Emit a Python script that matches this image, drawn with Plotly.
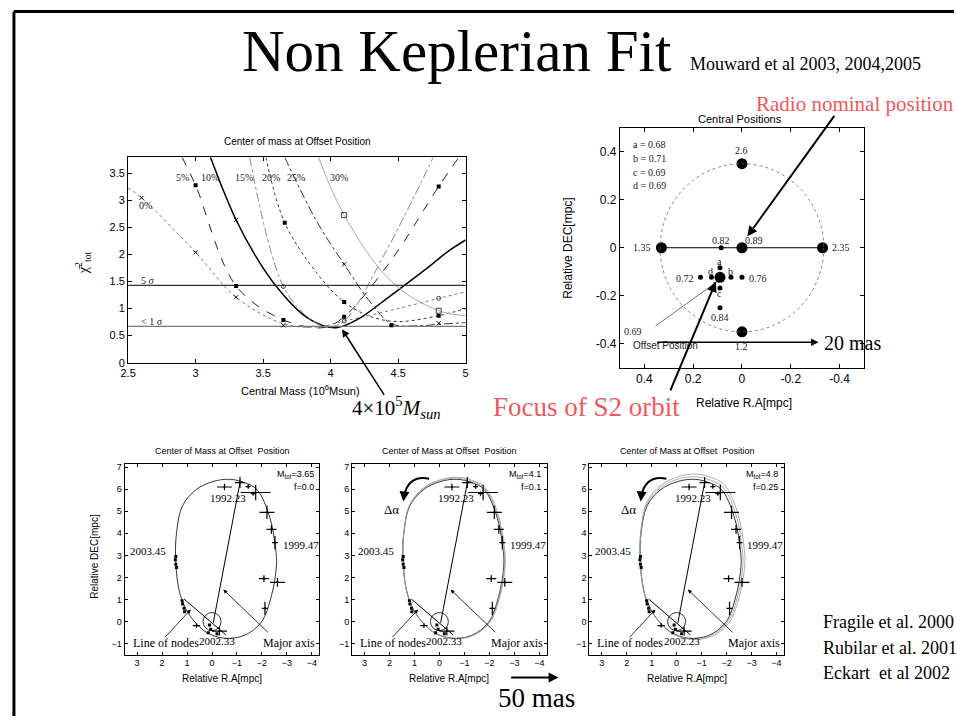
import plotly.graph_objects as go

W, H = 957, 722

# ---------------- data: chi^2 vs central mass (10^6 Msun) ----------------
mass_ticks = [2.5, 3, 3.5, 4, 4.5, 5]
mass_ticktext = ["2.5", "3", "3.5", "4", "4.5", "5"]
chi_ticks = [0, 0.5, 1, 1.5, 2, 2.5, 3, 3.5]
chi_ticktext = ["0", "0.5", "1", "1.5", "2", "2.5", "3", "3.5"]

mass_f0 = [2.5, 2.6, 3.0, 3.3, 3.65, 3.9, 4.1, 4.45, 4.8, 5.0]
chi_f0 = [3.23, 3.05, 2.04, 1.21, 0.72, 0.66, 0.77, 0.97, 1.19, 1.31]
mass_f5 = [2.9, 3.0, 3.3, 3.65, 3.95, 4.1, 4.45, 4.8, 4.95]
chi_f5 = [3.8, 3.28, 1.42, 0.79, 0.65, 0.85, 1.9, 3.26, 3.8]
mass_f10 = [3.11, 3.3, 3.5, 3.65, 3.8, 3.95, 4.05, 4.2, 4.45, 4.7, 4.87, 5.0]
chi_f10 = [3.8, 2.64, 1.75, 1.25, 0.88, 0.68, 0.65, 0.8, 1.25, 1.72, 2.06, 2.27]
mass_f15 = [3.4, 3.65, 3.85, 3.98, 4.1, 4.41, 4.76]
chi_f15 = [3.8, 1.41, 0.8, 0.66, 0.77, 2.06, 3.8]
mass_f20 = [3.52, 3.66, 3.9, 4.1, 4.3, 4.5, 4.8, 5.0]
chi_f20 = [3.8, 2.59, 1.65, 1.12, 0.85, 0.76, 0.87, 1.0]
mass_f25 = [3.66, 3.9, 4.1, 4.3, 4.45, 4.65, 4.8, 5.0]
chi_f25 = [3.8, 2.6, 1.82, 1.1, 0.72, 0.68, 0.71, 0.74]
mass_f30 = [3.91, 4.1, 4.45, 4.8, 5.0]
chi_f30 = [3.8, 2.73, 1.5, 0.96, 0.87]

fraction_labels = ["0%", "5%", "10%", "15%", "20%", "25%", "30%"]
fraction_label_mass = [2.63, 2.9, 3.11, 3.36, 3.56, 3.74, 4.06]
fraction_label_chi = [2.9, 3.42, 3.42, 3.42, 3.42, 3.42, 3.42]

sq_mass = [3.0, 3.3, 3.65, 4.1, 4.8, 3.66, 4.1, 4.45, 4.8]
sq_chi = [3.28, 1.42, 0.79, 0.85, 3.26, 2.59, 1.12, 0.69, 0.87]
x_mass = [2.6, 3.0, 3.3, 3.65, 4.1, 4.8, 3.3]
x_chi = [3.05, 2.04, 1.21, 0.69, 1.82, 0.73, 2.64]
osq_mass = [4.1, 4.8]
osq_chi = [2.73, 0.96]
oc_mass = [3.65, 4.1, 4.8]
oc_chi = [1.41, 0.77, 1.19]

sigma_levels = [1.43, 0.67]
sigma_labels = ["5 σ", "< 1 σ"]

# ---------------- data: central positions (mpc) ----------------
pos_ticks = [0.4, 0.2, 0, -0.2, -0.4]
pos_ticktext = ["0.4", "0.2", "0", "-0.2", "-0.4"]
big_ra = [0.33, -0.33, 0.0, 0.0, 0.0, 0.09]
big_dec = [0.0, 0.0, 0.35, -0.35, 0.0, -0.123]
small_ra = [0.085, 0.17, 0.125, 0.045, 0.0, 0.09, 0.09, 0.09]
small_dec = [0.0, -0.123, -0.123, -0.123, -0.123, -0.083, -0.167, -0.25]
circle_ra_radius = 0.335
circle_dec_radius = 0.35
legend_lines = ["a = 0.68", "b = 0.71", "c = 0.69", "d = 0.69"]
legend_dec = [0.43, 0.372, 0.315, 0.258]
pt_labels = ["2.6", "1.35", "2.35", "0.82", "0.89", "0.72", "0.76", "a", "b", "c", "d", "0.84", "1.2", "0.69"]
pt_label_ra = [0.0, 0.365, -0.36, 0.087, -0.005, 0.19, -0.02, 0.09, 0.045, 0.09, 0.127, 0.09, 0.0, 0.445]
pt_label_dec = [0.405, 0.0, 0.0, 0.032, 0.032, -0.128, -0.128, -0.058, -0.097, -0.19, -0.097, -0.29, -0.412, -0.35]
pt_label_anchor = ["center", "right", "left", "center", "left", "right", "left", "center", "center", "center", "center", "center", "center", "center"]

# ---------------- data: S2 orbit panels (mpc) ----------------
ra_ticks = [3, 2, 1, 0, -1, -2, -3, -4]
dec_ticks = [-1, 0, 1, 2, 3, 4, 5, 6, 7]
orbit_ra = [-0.05, -0.7, -1.3, -1.8, -2.3, -2.55, -2.58, -2.38, -1.97, -1.28, -0.46, 0.23, 0.7, 1.05, 1.33, 1.46, 1.42, 1.19, 0.64, -0.05]
orbit_dec = [6.35, 6.45, 6.3, 5.98, 4.78, 3.28, 2.53, 1.17, -0.03, -0.63, -0.75, -0.48, 0.0, 0.57, 1.47, 2.98, 4.03, 5.23, 5.98, 6.35]
s2_ra = [-0.5, -1.12, -1.45, -1.75, -1.65, -2.2, -2.38, -2.52, -2.08, -2.62, -2.12, 0.62, -0.3]
s2_dec = [6.1, 6.3, 6.12, 5.85, 5.8, 4.95, 4.18, 3.58, 1.95, 1.78, 0.6, -0.18, -0.43]
s2_ra_err = [0.3, 0.2, 0.1, 0.6, 0.1, 0.3, 0.2, 0.12, 0.2, 0.3, 0.12, 0.15, 0.3]
s2_dec_err = [0.15, 0.25, 0.1, 0.35, 0.1, 0.3, 0.2, 0.3, 0.15, 0.2, 0.3, 0.1, 0.2]
recent_ra = [1.45, 1.47, 1.45, 1.42, 1.2, 1.18, 1.12, 1.1, 0.1, 0.05, 0.15, -0.2]
recent_dec = [2.95, 2.8, 2.6, 2.45, 0.95, 0.8, 0.6, 0.45, -0.15, -0.35, -0.5, -0.55]
major_axis_ra = [-0.05, -1.12]
major_axis_dec = [-0.05, 6.3]
nodes_ra = [1.12, -0.55]
nodes_dec = [1.02, -0.6]
panel_mtot = ["3.65", "4.1", "4.8"]
panel_f = ["0.0", "0.1", "0.25"]
panel_epoch = ["2002.33", "2002.33", "2002.23"]
panel_orbit_scale = [[1.0], [1.0, 1.008, 1.016], [1.0, 1.02, 1.04]]
orbit_anchor_ra, orbit_anchor_dec = 1.2, 0.6

# ---------------- helpers ----------------
def px(x):
    return x / W

def py(y):
    return 1 - y / H

def dom_x(l, r):
    return [l / W, r / W]

def dom_y(t, b):
    return [1 - b / H, 1 - t / H]

SERIF = "Liberation Serif"
SANS = "Liberation Sans"
RED = "#f0585a"

fig = go.Figure()
ann = []
shapes = []

def A(**kw):
    kw.setdefault("xanchor", "center")
    kw.setdefault("yanchor", "middle")
    kw.setdefault("showarrow", False)
    ann.append(kw)

def P(text, x, y, size, family=SANS, color="black", **kw):
    A(text=text, x=px(x), y=py(y), xref="paper", yref="paper",
      font=dict(family=family, size=size, color=color), **kw)

axis_common = dict(showline=True, linecolor="black", linewidth=1, mirror="allticks",
                   ticks="inside", ticklen=4, tickcolor="black", tickwidth=1,
                   showgrid=False, zeroline=False, fixedrange=True)

# ---------- chi^2 panel ----------
curves = [
    (mass_f0, chi_f0, "dot", "#777777", 1.0),
    (mass_f5, chi_f5, "dash", "#222222", 1.0),
    (mass_f10, chi_f10, "solid", "#000000", 1.5),
    (mass_f15, chi_f15, "dashdot", "#888888", 1.0),
    (mass_f20, chi_f20, "dot", "#333333", 1.0),
    (mass_f25, chi_f25, "dashdot", "#333333", 1.0),
    (mass_f30, chi_f30, "solid", "#aaaaaa", 1.0),
]
for mx, cy, dash, col, w in curves:
    fig.add_trace(go.Scatter(x=mx, y=cy, mode="lines", xaxis="x", yaxis="y",
                             line=dict(shape="spline", smoothing=1.0, dash=dash, color=col, width=w),
                             hoverinfo="skip"))
for lvl, col in zip(sigma_levels, ["#333333", "#777777"]):
    fig.add_trace(go.Scatter(x=[mass_ticks[0], mass_ticks[-1]], y=[lvl, lvl], mode="lines",
                             xaxis="x", yaxis="y", line=dict(color=col, width=1.2), hoverinfo="skip"))
fig.add_trace(go.Scatter(x=sq_mass, y=sq_chi, mode="markers", xaxis="x", yaxis="y",
                         marker=dict(symbol="square", size=4, color="black")))
fig.add_trace(go.Scatter(x=x_mass, y=x_chi, mode="markers", xaxis="x", yaxis="y",
                         marker=dict(symbol="x-thin", size=4, line=dict(color="black", width=1))))
fig.add_trace(go.Scatter(x=osq_mass, y=osq_chi, mode="markers", xaxis="x", yaxis="y",
                         marker=dict(symbol="square-open", size=5, color="#444444")))
fig.add_trace(go.Scatter(x=oc_mass, y=oc_chi, mode="markers", xaxis="x", yaxis="y",
                         marker=dict(symbol="circle-open", size=4, color="#444444")))
for lab, mx, cy in zip(fraction_labels, fraction_label_mass, fraction_label_chi):
    A(text=lab, x=mx, y=cy, xref="x", yref="y", font=dict(family=SERIF, size=10, color="#222"))
for lab, lvl in zip(sigma_labels, sigma_levels):
    A(text=lab, x=2.58, y=lvl + 0.09, xref="x", yref="y", xanchor="left",
      font=dict(family=SERIF, size=10, color="#222"))
P("Center of mass at Offset Position", 293, 141, 10)
P("Central Mass (10<sup>6</sup>Msun)", 296, 392, 11)
P("χ̄<sup>2</sup><sub>tot</sub>", 76, 264, 14, family=SERIF, textangle=-90)

# ---------- central positions panel ----------
shapes.append(dict(type="circle", xref="x2", yref="y2", x0=circle_ra_radius, x1=-circle_ra_radius,
                   y0=-circle_dec_radius, y1=circle_dec_radius, line=dict(color="#666", width=0.8, dash="dot")))
fig.add_trace(go.Scatter(x=[big_ra[0], big_ra[1]], y=[big_dec[0], big_dec[1]], mode="lines",
                         xaxis="x2", yaxis="y2", line=dict(color="black", width=1)))
fig.add_trace(go.Scatter(x=big_ra, y=big_dec, mode="markers", xaxis="x2", yaxis="y2",
                         marker=dict(size=11, color="black")))
fig.add_trace(go.Scatter(x=small_ra, y=small_dec, mode="markers", xaxis="x2", yaxis="y2",
                         marker=dict(size=5, color="black")))
for t, d in zip(legend_lines, legend_dec):
    A(text=t, x=0.455, y=d, xref="x2", yref="y2", xanchor="left",
      font=dict(family=SERIF, size=10, color="#222"))
for t, r, d, a in zip(pt_labels, pt_label_ra, pt_label_dec, pt_label_anchor):
    A(text=t, x=r, y=d, xref="x2", yref="y2", xanchor=a,
      font=dict(family=SERIF, size=10, color="#222"))
A(text="Offset Position", x=0.455, y=-0.405, xref="x2", yref="y2", xanchor="left",
  font=dict(family=SANS, size=10, color="#222"))
A(text="", x=0.103, y=-0.142, xref="x2", yref="y2", ax=0.36, ay=-0.33, axref="x2", ayref="y2",
  showarrow=True, arrowhead=2, arrowsize=1, arrowwidth=0.7, arrowcolor="#333")
P("Central Positions", 741, 118, 11)
P("Relative DEC[mpc]", 567, 249, 12, textangle=-90)
P("Relative R.A[mpc]", 745, 405, 12)

# ---------- orbit panels ----------
panel_x = [(118, 315), (348, 545), (588, 785)]
panel_top, panel_bot = 467, 660
for i in range(3):
    xa = "x%d" % (i + 3)
    ya = "y%d" % (i + 3)
    scales = panel_orbit_scale[i]
    for k, s in enumerate(scales):
        ox = [orbit_anchor_ra + (r - orbit_anchor_ra) * s for r in orbit_ra]
        oy = [orbit_anchor_dec + (d - orbit_anchor_dec) * s for d in orbit_dec]
        col = "black" if (len(scales) == 1 or k == 0) else "#999999"
        fig.add_trace(go.Scatter(x=ox, y=oy, mode="lines", xaxis=xa, yaxis=ya,
                                 line=dict(shape="spline", smoothing=1.0, color=col, width=0.8)))
    fig.add_trace(go.Scatter(x=major_axis_ra, y=major_axis_dec, mode="lines", xaxis=xa, yaxis=ya,
                             line=dict(color="black", width=1)))
    fig.add_trace(go.Scatter(x=nodes_ra, y=nodes_dec, mode="lines", xaxis=xa, yaxis=ya,
                             line=dict(color="black", width=1)))
    fig.add_trace(go.Scatter(x=s2_ra, y=s2_dec, mode="markers", xaxis=xa, yaxis=ya,
                             marker=dict(size=2, color="black"),
                             error_x=dict(type="data", array=s2_ra_err, color="black", thickness=1.2, width=0),
                             error_y=dict(type="data", array=s2_dec_err, color="black", thickness=1.2, width=0)))
    fig.add_trace(go.Scatter(x=recent_ra, y=recent_dec, mode="markers", xaxis=xa, yaxis=ya,
                             marker=dict(size=3, color="black", symbol="square")))
    shapes.append(dict(type="circle", xref=xa, yref=ya, xsizemode="pixel", ysizemode="pixel",
                       xanchor=0, yanchor=0, x0=-9, x1=9, y0=-9, y1=9, line=dict(color="black", width=0.8)))
    A(text="", x=0.85, y=0.55, ax=1.94, ay=-0.78, xref=xa, yref=ya, axref=xa, ayref=ya,
      showarrow=True, arrowhead=2, arrowsize=1, arrowwidth=0.8, arrowcolor="black")
    A(text="", x=-0.45, y=1.45, ax=-2.3, ay=-0.55, xref=xa, yref=ya, axref=xa, ayref=ya,
      showarrow=True, arrowhead=2, arrowsize=1, arrowwidth=0.8, arrowcolor="black")
    tf = dict(family=SERIF, size=11, color="black")
    A(text="Line of nodes", x=1.85, y=-0.98, xref=xa, yref=ya, font=dict(family=SERIF, size=12, color="black"))
    A(text=panel_epoch[i], x=-0.2, y=-0.9, xref=xa, yref=ya, font=tf)
    A(text="Major axis", x=-3.1, y=-0.95, xref=xa, yref=ya, font=dict(family=SERIF, size=12, color="black"))
    A(text="1992.23", x=-0.65, y=5.6, xref=xa, yref=ya, font=tf)
    A(text="1999.47", x=-3.55, y=3.45, xref=xa, yref=ya, font=tf)
    A(text="2003.45", x=1.75, y=3.2, xref=xa, yref=ya, xanchor="right", font=tf)
    A(text="M<sub>tot</sub>=" + panel_mtot[i], x=-4.15, y=6.65, xref=xa, yref=ya,
      xanchor="right", font=dict(family=SANS, size=9, color="black"))
    A(text="f=" + panel_f[i], x=-4.15, y=6.1, xref=xa, yref=ya,
      xanchor="right", font=dict(family=SANS, size=9, color="black"))
    cx = (panel_x[i][0] + panel_x[i][1]) / 2
    P("Center of Mass at Offset  Position", cx, 454, 9)
    P("Relative R.A[mpc]", cx, 684, 10)
    if i > 0:
        l = panel_x[i][0]
        P("Δα", l + 40, 513, 13, family=SERIF)
        shapes.append(dict(type="path", xref="paper", yref="paper",
                           path="M %f,%f Q %f,%f %f,%f" % (px(l + 78), py(482), px(l + 58), py(478), px(l + 53), py(498)),
                           line=dict(color="black", width=2)))
        A(text="", x=px(l + 52), y=py(505), xref="paper", yref="paper", ax=1, ay=-9,
          showarrow=True, arrowhead=2, arrowsize=1, arrowwidth=2, arrowcolor="black")
P("Relative DEC[mpc]", 88, 560, 10, textangle=-90)

# ---------- slide texts ----------
P("Non Keplerian Fit", 454, 50, 59, family=SERIF)
P("Mouward et al 2003, 2004,2005", 688, 63, 18, family=SERIF, xanchor="left")
P("Radio nominal position", 755, 103, 21, family=SERIF, color=RED, xanchor="left")
P("Focus of S2 orbit", 585, 410, 27, family=SERIF, color=RED)
P("20 mas", 823, 345, 20, family=SERIF, xanchor="left")
P("50 mas", 535, 704, 27, family=SERIF)
P("4×10<sup>5</sup><i>M</i><sub><i>sun</i></sub>", 393, 410, 21, family=SERIF)
for t, yy in zip(["Fragile et al. 2000", "Rubilar et al. 2001", "Eckart  et al 2002"], [627, 653, 679]):
    P(t, 822, yy, 18, family=SERIF, xanchor="left")

# arrows (paper coordinates: head x,y ; tail offset in pixels)
def arrow(hx, hy, tx, ty, w=1.5):
    A(text="", x=px(hx), y=py(hy), xref="paper", yref="paper", ax=tx - hx, ay=ty - hy,
      showarrow=True, arrowhead=2, arrowsize=1, arrowwidth=w, arrowcolor="black")

arrow(748, 237, 836, 115, 2)
arrow(716, 283, 670, 393, 2)
arrow(820, 344, 657, 344, 1.5)
arrow(338, 331, 381, 398, 1.5)
arrow(557, 683, 508, 683, 2)

# slide border
shapes.append(dict(type="line", xref="paper", yref="paper", x0=px(6), x1=1, y0=py(9.5), y1=py(9.5),
                   line=dict(color="black", width=3)))
shapes.append(dict(type="line", xref="paper", yref="paper", x0=px(6), x1=px(6), y0=py(9.5), y1=0,
                   line=dict(color="black", width=3)))

layout = dict(
    width=W, height=H, margin=dict(l=0, r=0, t=0, b=0),
    paper_bgcolor="white", plot_bgcolor="white", showlegend=False,
    annotations=ann, shapes=shapes,
    xaxis=dict(axis_common, domain=dom_x(121.5, 463), range=[2.5, 5], tickvals=mass_ticks,
               ticktext=mass_ticktext, anchor="y", tickfont=dict(family=SANS, size=11, color="black")),
    yaxis=dict(axis_common, domain=dom_y(157, 364.7), range=[0, 3.8], tickvals=chi_ticks,
               ticktext=chi_ticktext, anchor="x", tickfont=dict(family=SANS, size=11, color="black")),
    xaxis2=dict(axis_common, domain=dom_x(619, 866), range=[0.5, -0.5], tickvals=pos_ticks,
                ticktext=pos_ticktext, anchor="y2", tickfont=dict(family=SANS, size=12, color="black")),
    yaxis2=dict(axis_common, domain=dom_y(127, 370), range=[-0.5, 0.5], tickvals=pos_ticks[::-1],
                ticktext=pos_ticktext[::-1], anchor="x2", tickfont=dict(family=SANS, size=12, color="black")),
)
for i in range(3):
    n = i + 3
    layout["xaxis%d" % n] = dict(axis_common, domain=dom_x(*panel_x[i]), range=[3.5, -4.3], tickvals=ra_ticks,
                                 anchor="y%d" % n, tickfont=dict(family=SANS, size=9, color="black"), ticklen=3)
    layout["yaxis%d" % n] = dict(axis_common, domain=dom_y(panel_top, panel_bot), range=[-1.5, 7.15],
                                 tickvals=dec_ticks, anchor="x%d" % n,
                                 tickfont=dict(family=SANS, size=9, color="black"), ticklen=3)
fig.update_layout(**layout)
fig.write_html("out.html", config={"displayModeBar": False},
               post_script="document.body.style.margin='0px';document.body.style.overflow='hidden';")
